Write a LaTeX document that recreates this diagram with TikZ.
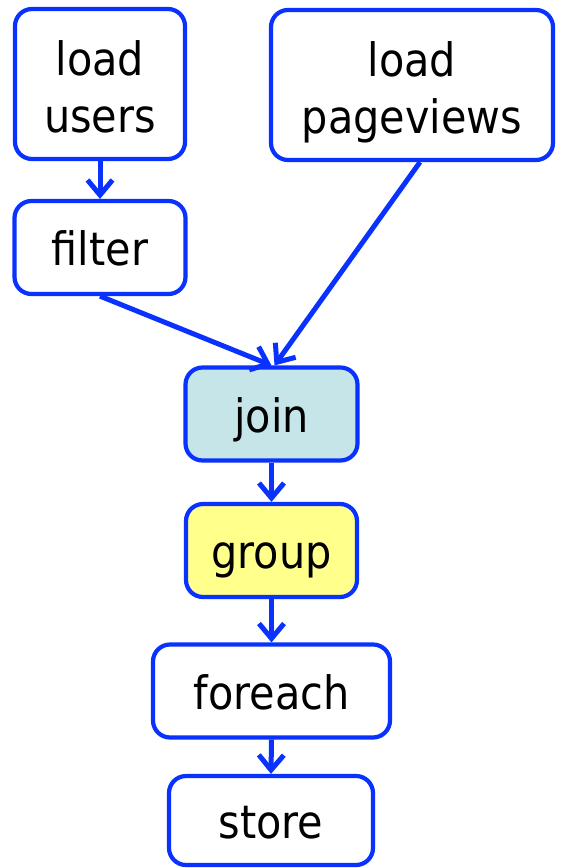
\documentclass[tikz,border=0pt]{standalone}
\usepackage{fontspec}
\setmainfont{DejaVu Sans Condensed}
\usetikzlibrary{arrows.meta,calc}

\definecolor{flowblue}{RGB}{10,50,255}
\definecolor{joinfill}{RGB}{197,229,232}
\definecolor{groupfill}{RGB}{255,255,140}

\tikzset{
  opbox/.style={draw=flowblue, line width=4.2pt, rounded corners=17pt,
    fill=white, inner sep=0pt, font=\fontsize{46}{57}\selectfont,
    align=center},
  oneline/.style={text height=36pt, text depth=0pt},
  twoline/.style={text height=96pt, text depth=0pt},
  flow/.style={draw=flowblue, line width=5pt,
    -{Straight Barb[length=15pt,width=25pt]}}
}

\begin{document}
\begin{tikzpicture}[x=1pt,y=-1pt]
  \useasboundingbox (0,0) rectangle (567,868);

  % loaders
  \node[opbox, twoline, minimum width=170pt, minimum height=150pt] (users) at (100,84) {load\\users};
  \node[opbox, twoline, minimum width=282pt, minimum height=150pt] (views) at (412,85) {load\\pageviews};

  % processing chain
  \node[opbox, oneline, minimum width=171pt, minimum height=93pt] (filter) at (100,247.5) {filter};
  \node[opbox, oneline, minimum width=172pt, minimum height=93pt, fill=joinfill] (join) at (271.5,414) {join};
  \node[opbox, oneline, minimum width=171pt, minimum height=93pt, fill=groupfill] (group) at (271.5,550.5) {group};
  \node[opbox, oneline, minimum width=237pt, minimum height=93pt] (foreach) at (271.5,691) {foreach};
  \node[opbox, oneline, minimum width=204pt, minimum height=89pt] (store) at (271,820.5) {store};

  % data flow
  \draw[flow] (users.south) -- (filter.north);
  \draw[flow] (filter.south) -- (join.north);
  \draw[flow] ([xshift=8pt]views.south) -- ([xshift=3pt]join.north);
  \draw[flow] (join.south) -- (group.north);
  \draw[flow] (group.south) -- (foreach.north);
  \draw[flow] (foreach.south) -- (store.north);
\end{tikzpicture}
\end{document}
